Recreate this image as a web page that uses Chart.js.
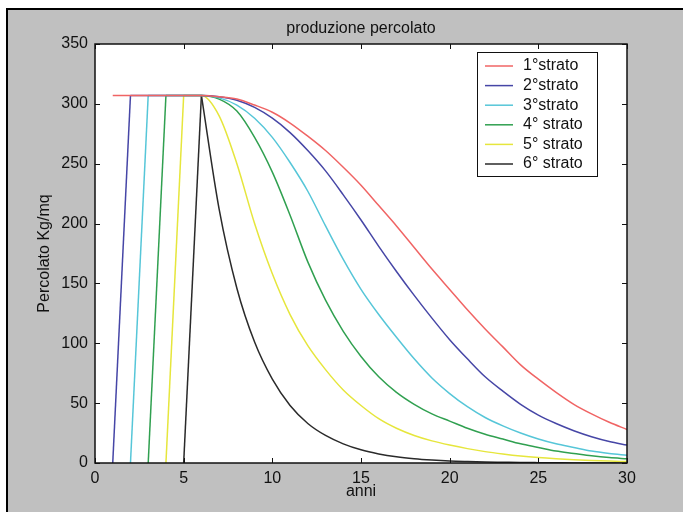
<!DOCTYPE html>
<html>
<head>
<meta charset="utf-8">
<script src="https://cdn.jsdelivr.net/npm/chart.js@4.4.0/dist/chart.umd.min.js"></script>
<style>
  html, body { margin: 0; padding: 0; background: #fff; }
  #fig { position: absolute; left: 6px; top: 8px; right: 0; bottom: 0;
         background: #c0c0c0; border-left: 2px solid #000; border-top: 2px solid #000; }
  #chart { position: absolute; left: 0; top: 0; }
</style>
</head>
<body>
<div id="fig"></div>
<canvas id="chart" width="683" height="512"></canvas>
<script>
// anni 0..30, valori (null = serie non ancora iniziata)
const anni = [0, 1, 2, 3, 4, 5, 6, 7, 8, 9, 10, 11, 12, 13, 14, 15, 16, 17, 18, 19, 20,
  21, 22, 23, 24, 25, 26, 27, 28, 29, 30];

const strato1 = [null, 307, 307, 307, 307, 307, 307, 306, 304, 299, 293, 284, 273, 261, 247, 232,
  215, 198, 180, 162, 145, 128, 112, 97, 82, 70, 59, 49, 41, 34, 28];
const strato2 = [null, 0, 307, 307, 307, 307, 307, 306, 303, 297, 288, 276, 261, 244, 224, 203,
  181, 160, 140, 121, 103, 87, 72, 60, 49, 40, 33, 27, 22, 18, 15];
const strato3 = [null, null, 0, 307, 307, 307, 307, 305, 299, 288, 272, 251, 227, 198, 170, 145,
  124, 105, 87, 71, 58, 47, 38, 31, 25, 20, 16, 13, 10, 8, 6.5];
const strato4 = [null, null, null, 0, 307, 307, 307, 304, 294, 272, 243, 207, 168, 136, 110, 89,
  72, 59, 49, 41, 35, 29, 24, 20, 16, 13, 10, 8, 6, 4.5, 3.5];
const strato5 = [null, null, null, null, 0, 307, 307, 290, 250, 200, 158, 124, 98, 78, 61, 48,
  37, 29, 23, 18.5, 15, 12, 9.5, 7.5, 5.8, 4.5, 3.5, 2.7, 2.1, 1.6, 1.2];
const strato6 = [null, null, null, null, null, 0, 307, 212, 146, 101, 70, 48, 33, 23, 16, 11,
  7.6, 5.2, 3.6, 2.5, 1.7, 1.2, 0.8, 0.6, 0.4, 0.3, 0.2, 0.1, 0.1, 0.1, 0];

const etichette = ['1°strato', '2°strato', '3°strato', '4° strato', '5° strato', '6° strato'];
const colori = ['#f06464', '#4646a6', '#56c6d8', '#30a050', '#e6e63c', '#2a2a2a'];
const serie = [strato1, strato2, strato3, strato4, strato5, strato6];

const xTicks = [0, 5, 10, 15, 20, 25, 30];
const yTicks = [0, 50, 100, 150, 200, 250, 300, 350];

const FONT = "'Liberation Sans', Arial, Helvetica, sans-serif";
const FS = 16;

// ogni strato: salita (tratto dritto) + plateau/decadimento (curva morbida)
const datasets = [];
serie.forEach((s, i) => {
  const pts = [];
  s.forEach((v, k) => { if (v !== null) pts.push({ x: anni[k], y: v }); });
  const base = { borderColor: colori[i], borderWidth: 1.5, pointRadius: 0, fill: false };
  let resto = pts;
  if (pts[0].y === 0) {
    datasets.push(Object.assign({ label: etichette[i], data: pts.slice(0, 2), tension: 0 }, base));
    resto = pts.slice(1);
  }
  datasets.push(Object.assign({ label: etichette[i], data: resto, cubicInterpolationMode: 'monotone' }, base));
});

// riquadro bianco, bordo, tacche interne, titolo e legenda stile matlab
const matlabStyle = {
  id: 'matlabStyle',
  beforeDraw(chart) {
    const { ctx, chartArea: a } = chart;
    ctx.save();
    ctx.fillStyle = '#fff';
    ctx.fillRect(a.left, a.top, a.right - a.left, a.bottom - a.top);
    ctx.restore();
  },
  afterDraw(chart) {
    const { ctx, chartArea: a, scales } = chart;
    ctx.save();
    ctx.strokeStyle = '#111';
    ctx.lineWidth = 1.5;
    ctx.strokeRect(a.left, a.top, a.right - a.left, a.bottom - a.top);

    ctx.lineWidth = 1;
    ctx.beginPath();
    xTicks.forEach(t => {
      const px = Math.round(scales.x.getPixelForValue(t)) + 0.5;
      ctx.moveTo(px, a.bottom); ctx.lineTo(px, a.bottom - 5);
      ctx.moveTo(px, a.top); ctx.lineTo(px, a.top + 5);
    });
    yTicks.forEach(t => {
      const py = Math.round(scales.y.getPixelForValue(t)) + 0.5;
      ctx.moveTo(a.left, py); ctx.lineTo(a.left + 5, py);
      ctx.moveTo(a.right, py); ctx.lineTo(a.right - 5, py);
    });
    ctx.stroke();

    // titolo
    ctx.fillStyle = '#111';
    ctx.font = FS + 'px ' + FONT;
    ctx.textAlign = 'center';
    ctx.textBaseline = 'middle';
    ctx.fillText('produzione percolato', (a.left + a.right) / 2, 29);

    // legenda
    const lx = 477, ly = 52, lw = 120, lh = 124;
    ctx.fillStyle = '#fff';
    ctx.fillRect(lx, ly, lw, lh);
    ctx.strokeStyle = '#111';
    ctx.lineWidth = 1;
    ctx.strokeRect(lx + 0.5, ly + 0.5, lw, lh);
    ctx.textAlign = 'left';
    etichette.forEach((lab, i) => {
      const y = ly + 14 + i * 19.6;
      ctx.strokeStyle = colori[i];
      ctx.lineWidth = 1.5;
      ctx.beginPath();
      ctx.moveTo(lx + 8, y); ctx.lineTo(lx + 36, y);
      ctx.stroke();
      ctx.fillStyle = '#111';
      ctx.fillText(lab, lx + 46, y);
    });
    ctx.restore();
  }
};

new Chart(document.getElementById('chart'), {
  type: 'line',
  data: { datasets: datasets },
  options: {
    responsive: false,
    animation: false,
    layout: { padding: { left: 0, top: 44, right: 56, bottom: 0 } },
    plugins: { legend: { display: false }, tooltip: { enabled: false } },
    scales: {
      x: {
        type: 'linear', min: 0, max: 30,
        afterBuildTicks: s => { s.ticks = xTicks.map(v => ({ value: v })); },
        afterFit: s => { s.height = 49; },
        grid: { display: false, drawTicks: false },
        border: { display: false },
        ticks: { padding: 6, color: '#111', font: { family: FONT, size: FS } },
        title: { display: true, text: 'anni', color: '#111', padding: { bottom: 11 },
                 font: { family: FONT, size: FS } }
      },
      y: {
        type: 'linear', min: 0, max: 350,
        afterBuildTicks: s => { s.ticks = yTicks.map(v => ({ value: v })); },
        afterFit: s => { s.width = 95; },
        grid: { display: false, drawTicks: false },
        border: { display: false },
        ticks: { padding: 7, color: '#111', font: { family: FONT, size: FS } },
        title: { display: true, text: 'Percolato Kg/mq', color: '#111', padding: { top: 35 },
                 font: { family: FONT, size: FS } }
      }
    }
  },
  plugins: [matlabStyle]
});
</script>
</body>
</html>
